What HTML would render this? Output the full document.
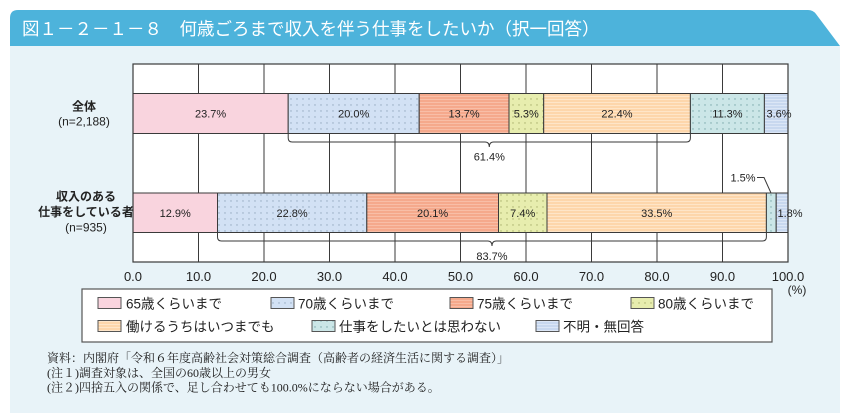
<!DOCTYPE html>
<html><head><meta charset="utf-8"><style>
html,body{margin:0;padding:0;background:#fff;}
svg{display:block;}
.t{font-family:"Liberation Sans","Noto Sans CJK JP",sans-serif;}
.s{font-family:"Liberation Serif","Noto Serif CJK SC",serif;}
</style></head><body>
<svg width="844" height="418" viewBox="0 0 844 418" xmlns="http://www.w3.org/2000/svg">
<defs>
<pattern id="d70" width="6" height="6" patternUnits="userSpaceOnUse"><rect width="6" height="6" fill="#d2e1f4"/><circle cx="3" cy="3" r="0.7" fill="#93a8bd"/></pattern>
<pattern id="d80" width="6" height="6" patternUnits="userSpaceOnUse"><rect width="6" height="6" fill="#e7edae"/><circle cx="3" cy="3" r="0.7" fill="#a7ae6a"/></pattern>
<pattern id="dno" width="6" height="6" patternUnits="userSpaceOnUse"><rect width="6" height="6" fill="#cbe6e7"/><circle cx="3" cy="3" r="0.7" fill="#77a6a8"/></pattern>
<pattern id="s75" width="4" height="3" patternUnits="userSpaceOnUse"><rect width="4" height="3" fill="#f5a98c"/><rect y="0" width="4" height="1" fill="#f8bea7"/></pattern>
<pattern id="sev" width="4" height="3" patternUnits="userSpaceOnUse"><rect width="4" height="3" fill="#fdd6ab"/><rect y="0" width="4" height="1" fill="#fee5c8"/></pattern>
<pattern id="sun" width="4" height="3" patternUnits="userSpaceOnUse"><rect width="4" height="3" fill="#c8d8ef"/><rect y="0" width="4" height="1" fill="#dbe6f6"/></pattern>
</defs>

<rect x="10" y="46" width="830" height="367" fill="#e8f3f8"/>
<path d="M10,46 L10,18 Q10,10 18,10 L808,10 Q813,10 816,14 L840,46 Z" fill="#4db3db"/>
<text x="22" y="35" font-size="17.5" fill="#ffffff" font-family="'Noto Sans CJK JP',sans-serif">図１－２－１－８　何歳ごろまで収入を伴う仕事をしたいか（択一回答）</text>

<rect x="133" y="64" width="655" height="198" fill="#ffffff"/>

<g stroke="#3a3a3a" stroke-width="1">
<rect x="133" y="93.5" width="155.2" height="40" fill="#f9d4de"/>
<rect x="288.2" y="93.5" width="131" height="40" fill="url(#d70)"/>
<rect x="419.2" y="93.5" width="89.8" height="40" fill="url(#s75)"/>
<rect x="509" y="93.5" width="34.7" height="40" fill="url(#d80)"/>
<rect x="543.7" y="93.5" width="146.7" height="40" fill="url(#sev)"/>
<rect x="690.4" y="93.5" width="74" height="40" fill="url(#dno)"/>
<rect x="764.4" y="93.5" width="23.6" height="40" fill="url(#sun)"/>
</g>
<g stroke="#3a3a3a" stroke-width="1">
<rect x="133" y="193" width="84.5" height="39.5" fill="#f9d4de"/>
<rect x="217.5" y="193" width="149.3" height="39.5" fill="url(#d70)"/>
<rect x="366.8" y="193" width="131.7" height="39.5" fill="url(#s75)"/>
<rect x="498.5" y="193" width="48.5" height="39.5" fill="url(#d80)"/>
<rect x="547" y="193" width="219.4" height="39.5" fill="url(#sev)"/>
<rect x="766.4" y="193" width="9.8" height="39.5" fill="url(#dno)"/>
<rect x="776.2" y="193" width="11.8" height="39.5" fill="url(#sun)"/>
</g>

<g stroke="#3a3a3a" stroke-width="1">
<line x1="198.5" y1="64" x2="198.5" y2="93.5"/><line x1="264" y1="64" x2="264" y2="93.5"/><line x1="329.5" y1="64" x2="329.5" y2="93.5"/><line x1="395" y1="64" x2="395" y2="93.5"/><line x1="460.5" y1="64" x2="460.5" y2="93.5"/><line x1="526" y1="64" x2="526" y2="93.5"/><line x1="591.5" y1="64" x2="591.5" y2="93.5"/><line x1="657" y1="64" x2="657" y2="93.5"/><line x1="722.5" y1="64" x2="722.5" y2="93.5"/>
<line x1="198.5" y1="133.5" x2="198.5" y2="193"/><line x1="264" y1="133.5" x2="264" y2="193"/><line x1="329.5" y1="133.5" x2="329.5" y2="193"/><line x1="395" y1="133.5" x2="395" y2="193"/><line x1="460.5" y1="133.5" x2="460.5" y2="193"/><line x1="526" y1="133.5" x2="526" y2="193"/><line x1="591.5" y1="133.5" x2="591.5" y2="193"/><line x1="657" y1="133.5" x2="657" y2="193"/><line x1="722.5" y1="133.5" x2="722.5" y2="193"/>
<line x1="198.5" y1="232.5" x2="198.5" y2="262"/><line x1="264" y1="232.5" x2="264" y2="262"/><line x1="329.5" y1="232.5" x2="329.5" y2="262"/><line x1="395" y1="232.5" x2="395" y2="262"/><line x1="460.5" y1="232.5" x2="460.5" y2="262"/><line x1="526" y1="232.5" x2="526" y2="262"/><line x1="591.5" y1="232.5" x2="591.5" y2="262"/><line x1="657" y1="232.5" x2="657" y2="262"/><line x1="722.5" y1="232.5" x2="722.5" y2="262"/>
</g>
<rect x="133" y="64" width="655" height="198" fill="none" stroke="#3a3a3a" stroke-width="1.2"/>

<path d="M288.2,133.5 L288.2,138 Q288.2,142 292.2,142 L485,142 Q489.3,142 489.3,147 Q489.3,142 493.6,142 L686.4,142 Q690.4,142 690.4,138 L690.4,133.5" fill="none" stroke="#3a3a3a" stroke-width="1"/>
<path d="M217.5,232.5 L217.5,237 Q217.5,241 221.5,241 L487.7,241 Q492,241 492,246 Q492,241 496.3,241 L762.4,241 Q766.4,241 766.4,237 L766.4,232.5" fill="none" stroke="#3a3a3a" stroke-width="1"/>
<polyline points="757,177.5 764,177.5 771,193" fill="none" stroke="#3a3a3a" stroke-width="1"/>

<g class="t" font-size="11" fill="#222" text-anchor="middle">
<text x="210.6" y="117.5">23.7%</text>
<text x="353.7" y="117.5">20.0%</text>
<text x="464.1" y="117.5">13.7%</text>
<text x="526.3" y="117.5">5.3%</text>
<text x="617" y="117.5">22.4%</text>
<text x="727.4" y="117.5">11.3%</text>
<text x="779" y="117.5">3.6%</text>
<text x="175.2" y="217">12.9%</text>
<text x="292.1" y="217">22.8%</text>
<text x="432.6" y="217">20.1%</text>
<text x="522.7" y="217">7.4%</text>
<text x="656.7" y="217">33.5%</text>
<text x="790" y="217">1.8%</text>
<text x="743" y="181.5">1.5%</text>
<text x="489.3" y="160.5">61.4%</text>
<text x="492" y="260">83.7%</text>
</g>

<g class="t" font-size="12" fill="#222" text-anchor="middle">
<text x="84" y="110.5" font-weight="bold">全体</text>
<text x="84" y="125.5">(n=2,188)</text>
<text x="86" y="200.5" font-weight="bold">収入のある</text>
<text x="86" y="216" font-weight="bold">仕事をしている者</text>
<text x="86" y="231.5">(n=935)</text>
</g>

<g class="t" font-size="13" fill="#222" text-anchor="middle">
<text x="133" y="281">0.0</text>
<text x="198.5" y="281">10.0</text>
<text x="264" y="281">20.0</text>
<text x="329.5" y="281">30.0</text>
<text x="395" y="281">40.0</text>
<text x="460.5" y="281">50.0</text>
<text x="526" y="281">60.0</text>
<text x="591.5" y="281">70.0</text>
<text x="657" y="281">80.0</text>
<text x="722.5" y="281">90.0</text>
<text x="788" y="281">100.0</text>
<text x="797" y="294" font-size="12">(%)</text>
</g>

<rect x="82" y="289" width="690" height="53" fill="#ffffff" stroke="#555" stroke-width="1.2"/>
<g stroke="#555" stroke-width="1">
<rect x="98" y="297.5" width="23" height="11" fill="#f9d4de"/>
<rect x="271" y="297.5" width="23" height="11" fill="url(#d70)"/>
<rect x="450" y="297.5" width="23" height="11" fill="url(#s75)"/>
<rect x="631" y="297.5" width="23" height="11" fill="url(#d80)"/>
<rect x="98" y="320.5" width="23" height="11" fill="url(#sev)"/>
<rect x="312" y="320.5" width="23" height="11" fill="url(#dno)"/>
<rect x="536" y="320.5" width="23" height="11" fill="url(#sun)"/>
</g>
<g class="t" font-size="13.5" fill="#222">
<text x="126" y="308.5">65歳くらいまで</text>
<text x="298" y="308.5">70歳くらいまで</text>
<text x="477" y="308.5">75歳くらいまで</text>
<text x="658" y="308.5">80歳くらいまで</text>
<text x="126" y="331.5">働けるうちはいつまでも</text>
<text x="339" y="331.5">仕事をしたいとは思わない</text>
<text x="563" y="331.5">不明・無回答</text>
</g>

<g class="s" font-size="12" fill="#222">
<text x="47" y="362">資料：内閣府「令和６年度高齢社会対策総合調査（高齢者の経済生活に関する調査）」</text>
<text x="47" y="377">(注１)調査対象は、全国の60歳以上の男女</text>
<text x="47" y="391.5">(注２)四捨五入の関係で、足し合わせても100.0%にならない場合がある。</text>
</g>
</svg>
</body></html>
